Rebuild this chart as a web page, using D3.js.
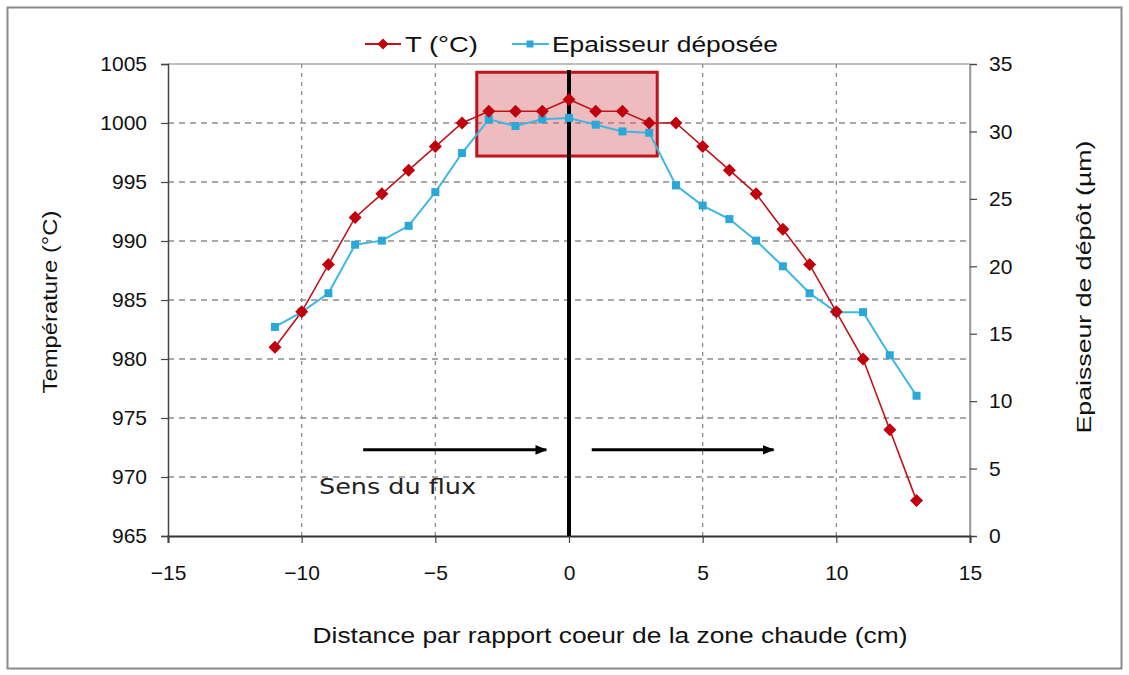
<!DOCTYPE html>
<html>
<head>
<meta charset="utf-8">
<script src="https://cdn.jsdelivr.net/npm/d3@7"></script>
<style>
  html, body { margin: 0; padding: 0; background: #fff; }
  svg { display: block; }
  .tick text { font-family: "Liberation Sans", Arial, sans-serif; font-size: 21px; fill: #111; }
</style>
</head>
<body>
<svg id="chart" width="1129" height="675"></svg>
<script>
// ---------- data ----------
const distance    = [-11, -10, -9, -8, -7, -6, -5, -4, -3, -2, -1, 0, 1, 2, 3, 4, 5, 6, 7, 8, 9, 10, 11, 12, 13];
const temperature = [981, 984, 988, 992, 994, 996, 998, 1000, 1001, 1001, 1001, 1002, 1001, 1001, 1000, 1000, 998, 996, 994, 991, 988, 984, 980, 974, 968];
const thickness   = [15.5, 16.6, 18.0, 21.6, 21.9, 23.0, 25.5, 28.4, 30.9, 30.4, 30.9, 31.0, 30.5, 30.0, 29.9, 26.0, 24.5, 23.5, 21.9, 20.0, 18.0, 16.6, 16.6, 13.4, 10.4];
const xTicks      = [-15, -10, -5, 0, 5, 10, 15];
const tTicks      = [965, 970, 975, 980, 985, 990, 995, 1000, 1005];
const eTicks      = [0, 5, 10, 15, 20, 25, 30, 35];
const seriesNames = ["T (°C)", "Epaisseur déposée"];
const hotZone     = { x0: -3.45, x1: 3.3, t0: 997.2, t1: 1004.3 };
const flowArrows  = [{ from: -7.7, to: -0.85, t: 972.3 }, { from: 0.85, to: 7.65, t: 972.3 }];
const flowLabel   = { text: "Sens du flux", x: -9.35, t: 968.6 };

// ---------- setup ----------
const svg = d3.select("#chart");
const L = 168, R = 970, T = 64, B = 536;
const x  = d3.scaleLinear().domain([-15, 15]).range([L, R]);
const yT = d3.scaleLinear().domain([965, 1005]).range([B, T]);
const yE = d3.scaleLinear().domain([0, 35]).range([B, T]);

const red = "#c0141c", blue = "#3cb8e2", redFill = "rgba(214,96,100,0.42)";
const FONT = "'Liberation Sans', Arial, sans-serif";

// outer frame
svg.append("rect").attr("x", 7.5).attr("y", 7.5).attr("width", 1114).attr("height", 661)
  .attr("fill", "none").attr("stroke", "#8a8a8a").attr("stroke-width", 2);

// plot frame top / right
svg.append("line").attr("x1", L).attr("x2", R).attr("y1", T).attr("y2", T).attr("stroke", "#aaa").attr("stroke-width", 1.5);
svg.append("line").attr("x1", R).attr("x2", R).attr("y1", T).attr("y2", B).attr("stroke", "#999").attr("stroke-width", 1.5);

// grid
const g = svg.append("g");
g.selectAll(".hg").data(tTicks.filter(d => d > 965 && d < 1005)).join("line")
  .attr("x1", L).attr("x2", R).attr("y1", d => yT(d)).attr("y2", d => yT(d))
  .attr("stroke", "#8c8c8c").attr("stroke-width", 1.3).attr("stroke-dasharray", "6,5");
g.selectAll(".vg").data(xTicks.filter(d => d !== 0 && Math.abs(d) < 15)).join("line")
  .attr("x1", d => x(d)).attr("x2", d => x(d)).attr("y1", T).attr("y2", B)
  .attr("stroke", "#8c8c8c").attr("stroke-width", 1.3).attr("stroke-dasharray", "4,5");

// hot zone box
svg.append("rect")
  .attr("x", x(hotZone.x0)).attr("y", yT(hotZone.t1))
  .attr("width", x(hotZone.x1) - x(hotZone.x0)).attr("height", yT(hotZone.t0) - yT(hotZone.t1))
  .attr("fill", redFill).attr("stroke", red).attr("stroke-width", 3);

// axes
const axL = svg.append("g").attr("transform", `translate(${L},0)`)
  .call(d3.axisLeft(yT).tickValues(tTicks).tickSize(7).tickPadding(14).tickFormat(d3.format("d")));
const axR = svg.append("g").attr("transform", `translate(${R},0)`)
  .call(d3.axisRight(yE).tickValues(eTicks).tickSize(7).tickPadding(12).tickFormat(d3.format("d")));
const axB = svg.append("g").attr("transform", `translate(0,${B})`)
  .call(d3.axisBottom(x).tickValues(xTicks).tickSize(7).tickPadding(22).tickFormat(d3.format("d")));
[axL, axR, axB].forEach(a => {
  a.select(".domain").attr("stroke", "#444").attr("stroke-width", 1.5);
  a.selectAll(".tick line").attr("stroke", "#444").attr("stroke-width", 1.2);
});
axR.select(".domain").attr("stroke", "#999");
axB.select(".domain").attr("stroke", "#333").attr("stroke-width", 2);

// center line
svg.append("line").attr("x1", x(0)).attr("x2", x(0)).attr("y1", yT(1004.5)).attr("y2", B)
  .attr("stroke", "#000").attr("stroke-width", 4);

// arrows
const defs = svg.append("defs");
defs.append("marker").attr("id", "ah").attr("viewBox", "0 0 10 10").attr("refX", 9).attr("refY", 5)
  .attr("markerWidth", 4).attr("markerHeight", 4).attr("markerUnits", "strokeWidth").attr("orient", "auto")
  .append("path").attr("d", "M0,1 L10,5 L0,9 Z").attr("fill", "#000");
svg.selectAll(".arrow").data(flowArrows).join("line")
  .attr("x1", d => x(d.from)).attr("x2", d => x(d.to)).attr("y1", d => yT(d.t)).attr("y2", d => yT(d.t))
  .attr("stroke", "#000").attr("stroke-width", 3).attr("marker-end", "url(#ah)");
svg.append("text").attr("x", x(flowLabel.x)).attr("y", yT(flowLabel.t))
  .attr("font-family", "'DejaVu Sans', Verdana, sans-serif").attr("font-size", 22).attr("fill", "#222")
  .attr("textLength", 157).attr("lengthAdjust", "spacingAndGlyphs")
  .text(flowLabel.text);

// series
const lineT = d3.line().x((d, i) => x(distance[i])).y(d => yT(d));
const lineE = d3.line().x((d, i) => x(distance[i])).y(d => yE(d));
svg.append("path").attr("d", lineE(thickness)).attr("fill", "none").attr("stroke", blue).attr("stroke-width", 2);
svg.append("path").attr("d", lineT(temperature)).attr("fill", "none").attr("stroke", red).attr("stroke-width", 1.6);

svg.selectAll(".sq").data(thickness).join("rect")
  .attr("x", (d, i) => x(distance[i]) - 4).attr("y", d => yE(d) - 4)
  .attr("width", 8).attr("height", 8).attr("fill", "#2aa8d8");
const diamondPath = "M0,-6.5 L6.5,0 L0,6.5 L-6.5,0 Z";
svg.selectAll(".dm").data(temperature).join("path")
  .attr("transform", (d, i) => `translate(${x(distance[i])},${yT(d)})`)
  .attr("d", diamondPath).attr("fill", "#c0000c");

// axis titles
svg.append("text").attr("transform", "translate(57,302) rotate(-90)").attr("text-anchor", "middle")
  .attr("font-family", FONT).attr("font-size", 21).attr("fill", "#111")
  .attr("textLength", 183).attr("lengthAdjust", "spacingAndGlyphs")
  .text("Température (°C)");
svg.append("text").attr("transform", "translate(1091,287) rotate(-90)").attr("text-anchor", "middle")
  .attr("font-family", FONT).attr("font-size", 21).attr("fill", "#111")
  .attr("textLength", 293).attr("lengthAdjust", "spacingAndGlyphs")
  .text("Epaisseur de dépôt (µm)");
svg.append("text").attr("x", 610).attr("y", 643).attr("text-anchor", "middle")
  .attr("font-family", FONT).attr("font-size", 22).attr("fill", "#111")
  .attr("textLength", 595).attr("lengthAdjust", "spacingAndGlyphs")
  .text("Distance par rapport coeur de la zone chaude (cm)");

// legend
const lg = svg.append("g");
lg.append("line").attr("x1", 365).attr("x2", 401).attr("y1", 44).attr("y2", 44).attr("stroke", red).attr("stroke-width", 2);
lg.append("path").attr("transform", "translate(383,44)").attr("d", "M0,-5.5 L5.5,0 L0,5.5 L-5.5,0 Z").attr("fill", "#c0000c");
lg.append("text").attr("x", 405).attr("y", 52).attr("font-family", FONT)
  .attr("font-size", 22).attr("fill", "#111")
  .attr("textLength", 73).attr("lengthAdjust", "spacingAndGlyphs").text(seriesNames[0]);
lg.append("line").attr("x1", 512).attr("x2", 549).attr("y1", 44).attr("y2", 44).attr("stroke", blue).attr("stroke-width", 2);
lg.append("rect").attr("x", 526.5).attr("y", 40.5).attr("width", 7).attr("height", 7).attr("fill", "#2aa8d8");
lg.append("text").attr("x", 552).attr("y", 52).attr("font-family", FONT)
  .attr("font-size", 22).attr("fill", "#111")
  .attr("textLength", 226).attr("lengthAdjust", "spacingAndGlyphs").text(seriesNames[1]);
</script>
</body>
</html>
